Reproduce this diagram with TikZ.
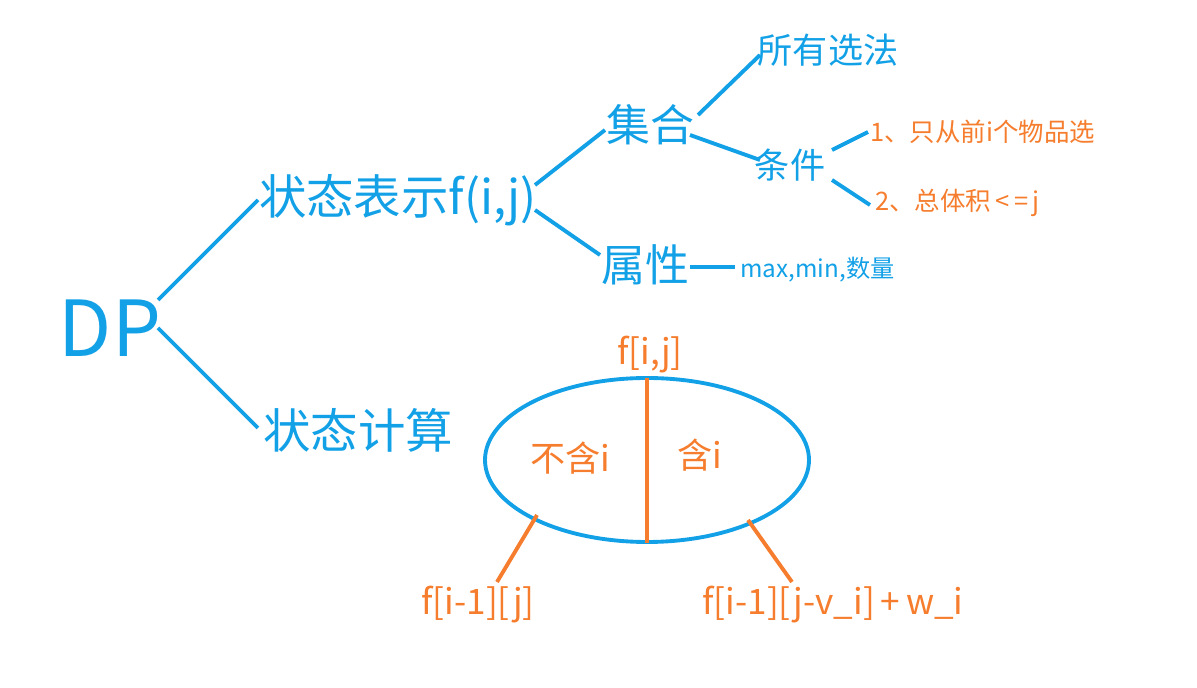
\documentclass[tikz,border=0pt]{standalone}
\usepackage{fontspec}
\setmainfont{Noto Sans CJK SC}
\definecolor{bl}{RGB}{18,160,230}
\definecolor{og}{RGB}{245,125,45}
\begin{document}
\begin{tikzpicture}[x=0.02cm,y=-0.02cm,
  bt/.style={text=bl,inner sep=0pt},
  ot/.style={text=og,inner sep=0pt},
  bln/.style={draw=bl,line width=2.2pt},
  oln/.style={draw=og,line width=2.2pt}]
\useasboundingbox (0,0) rectangle (1197,688);
\node[bt,font=\fontsize{44}{44}\selectfont] (dp) at (110,328) {DP};
\node[bt,font=\fontsize{27}{27}\selectfont] (zt) at (398,200) {状态表示f(i,j)};
\node[bt,font=\fontsize{27}{27}\selectfont] (js) at (358,430) {状态计算};
\node[bt,font=\fontsize{25}{25}\selectfont] (jh) at (650,125) {集合};
\node[bt,font=\fontsize{25}{25}\selectfont] (sx) at (645,265) {属性};
\node[bt,font=\fontsize{13.8}{13.8}\selectfont,anchor=west] (mm) at (740,270) {max,min,数量};
\node[bt,font=\fontsize{20}{20}\selectfont] (sy) at (828,50) {所有选法};
\node[bt,font=\fontsize{20}{20}\selectfont] (tj) at (790,165) {条件};
\node[ot,font=\fontsize{14.5}{14.5}\selectfont,anchor=west] (c1) at (870,132) {1、只从前i个物品选};
\node[ot,font=\fontsize{14.5}{14.5}\selectfont,anchor=west] (c2) at (875,203) {2、总体积\,<\,=\,j};
\coordinate (el) at (647,460);
\draw[bl,line width=2.2pt] (el) ellipse [x radius=162, y radius=82];
\coordinate (vt) at (647,378); \coordinate (vb) at (647,543);
\draw[oln] (vt) -- (vb);
\node[ot,font=\fontsize{20}{20}\selectfont] (fij) at (650,355) {f[i,j]};
\node[ot,font=\fontsize{20}{20}\selectfont] (bh) at (570,458) {不含i};
\node[ot,font=\fontsize{20}{20}\selectfont] (hi) at (700,455) {含i};
\node[ot,font=\fontsize{20}{20}\selectfont] (fa) at (478,605) {f[i-1][j]};
\node[ot,font=\fontsize{20}{20}\selectfont] (fb) at (833,605) {f[i-1][j-v\_i]\,+\,w\_i};
\coordinate (a1) at (158,300); \coordinate (a2) at (258,200);
\coordinate (b1) at (158,328); \coordinate (b2) at (258,428);
\coordinate (c1a) at (535,185); \coordinate (c1b) at (605,130);
\coordinate (d1) at (535,210); \coordinate (d2) at (600,255);
\coordinate (e1) at (690,267); \coordinate (e2) at (735,267);
\coordinate (f1) at (698,115); \coordinate (f2) at (760,55);
\coordinate (g1) at (690,135); \coordinate (g2) at (760,160);
\coordinate (h1) at (832,150); \coordinate (h2) at (868,132);
\coordinate (i1) at (832,180); \coordinate (i2) at (870,205);
\coordinate (j1) at (537,515); \coordinate (j2) at (497,582);
\coordinate (k1) at (748,520); \coordinate (k2) at (792,582);
\draw[bln] (a1)--(a2); \draw[bln] (b1)--(b2);
\draw[bln] (c1a)--(c1b); \draw[bln] (d1)--(d2);
\draw[bln] (e1)--(e2); \draw[bln] (f1)--(f2); \draw[bln] (g1)--(g2);
\draw[bln] (h1)--(h2); \draw[bln] (i1)--(i2);
\draw[oln] (j1)--(j2); \draw[oln] (k1)--(k2);
\end{tikzpicture}
\end{document}
